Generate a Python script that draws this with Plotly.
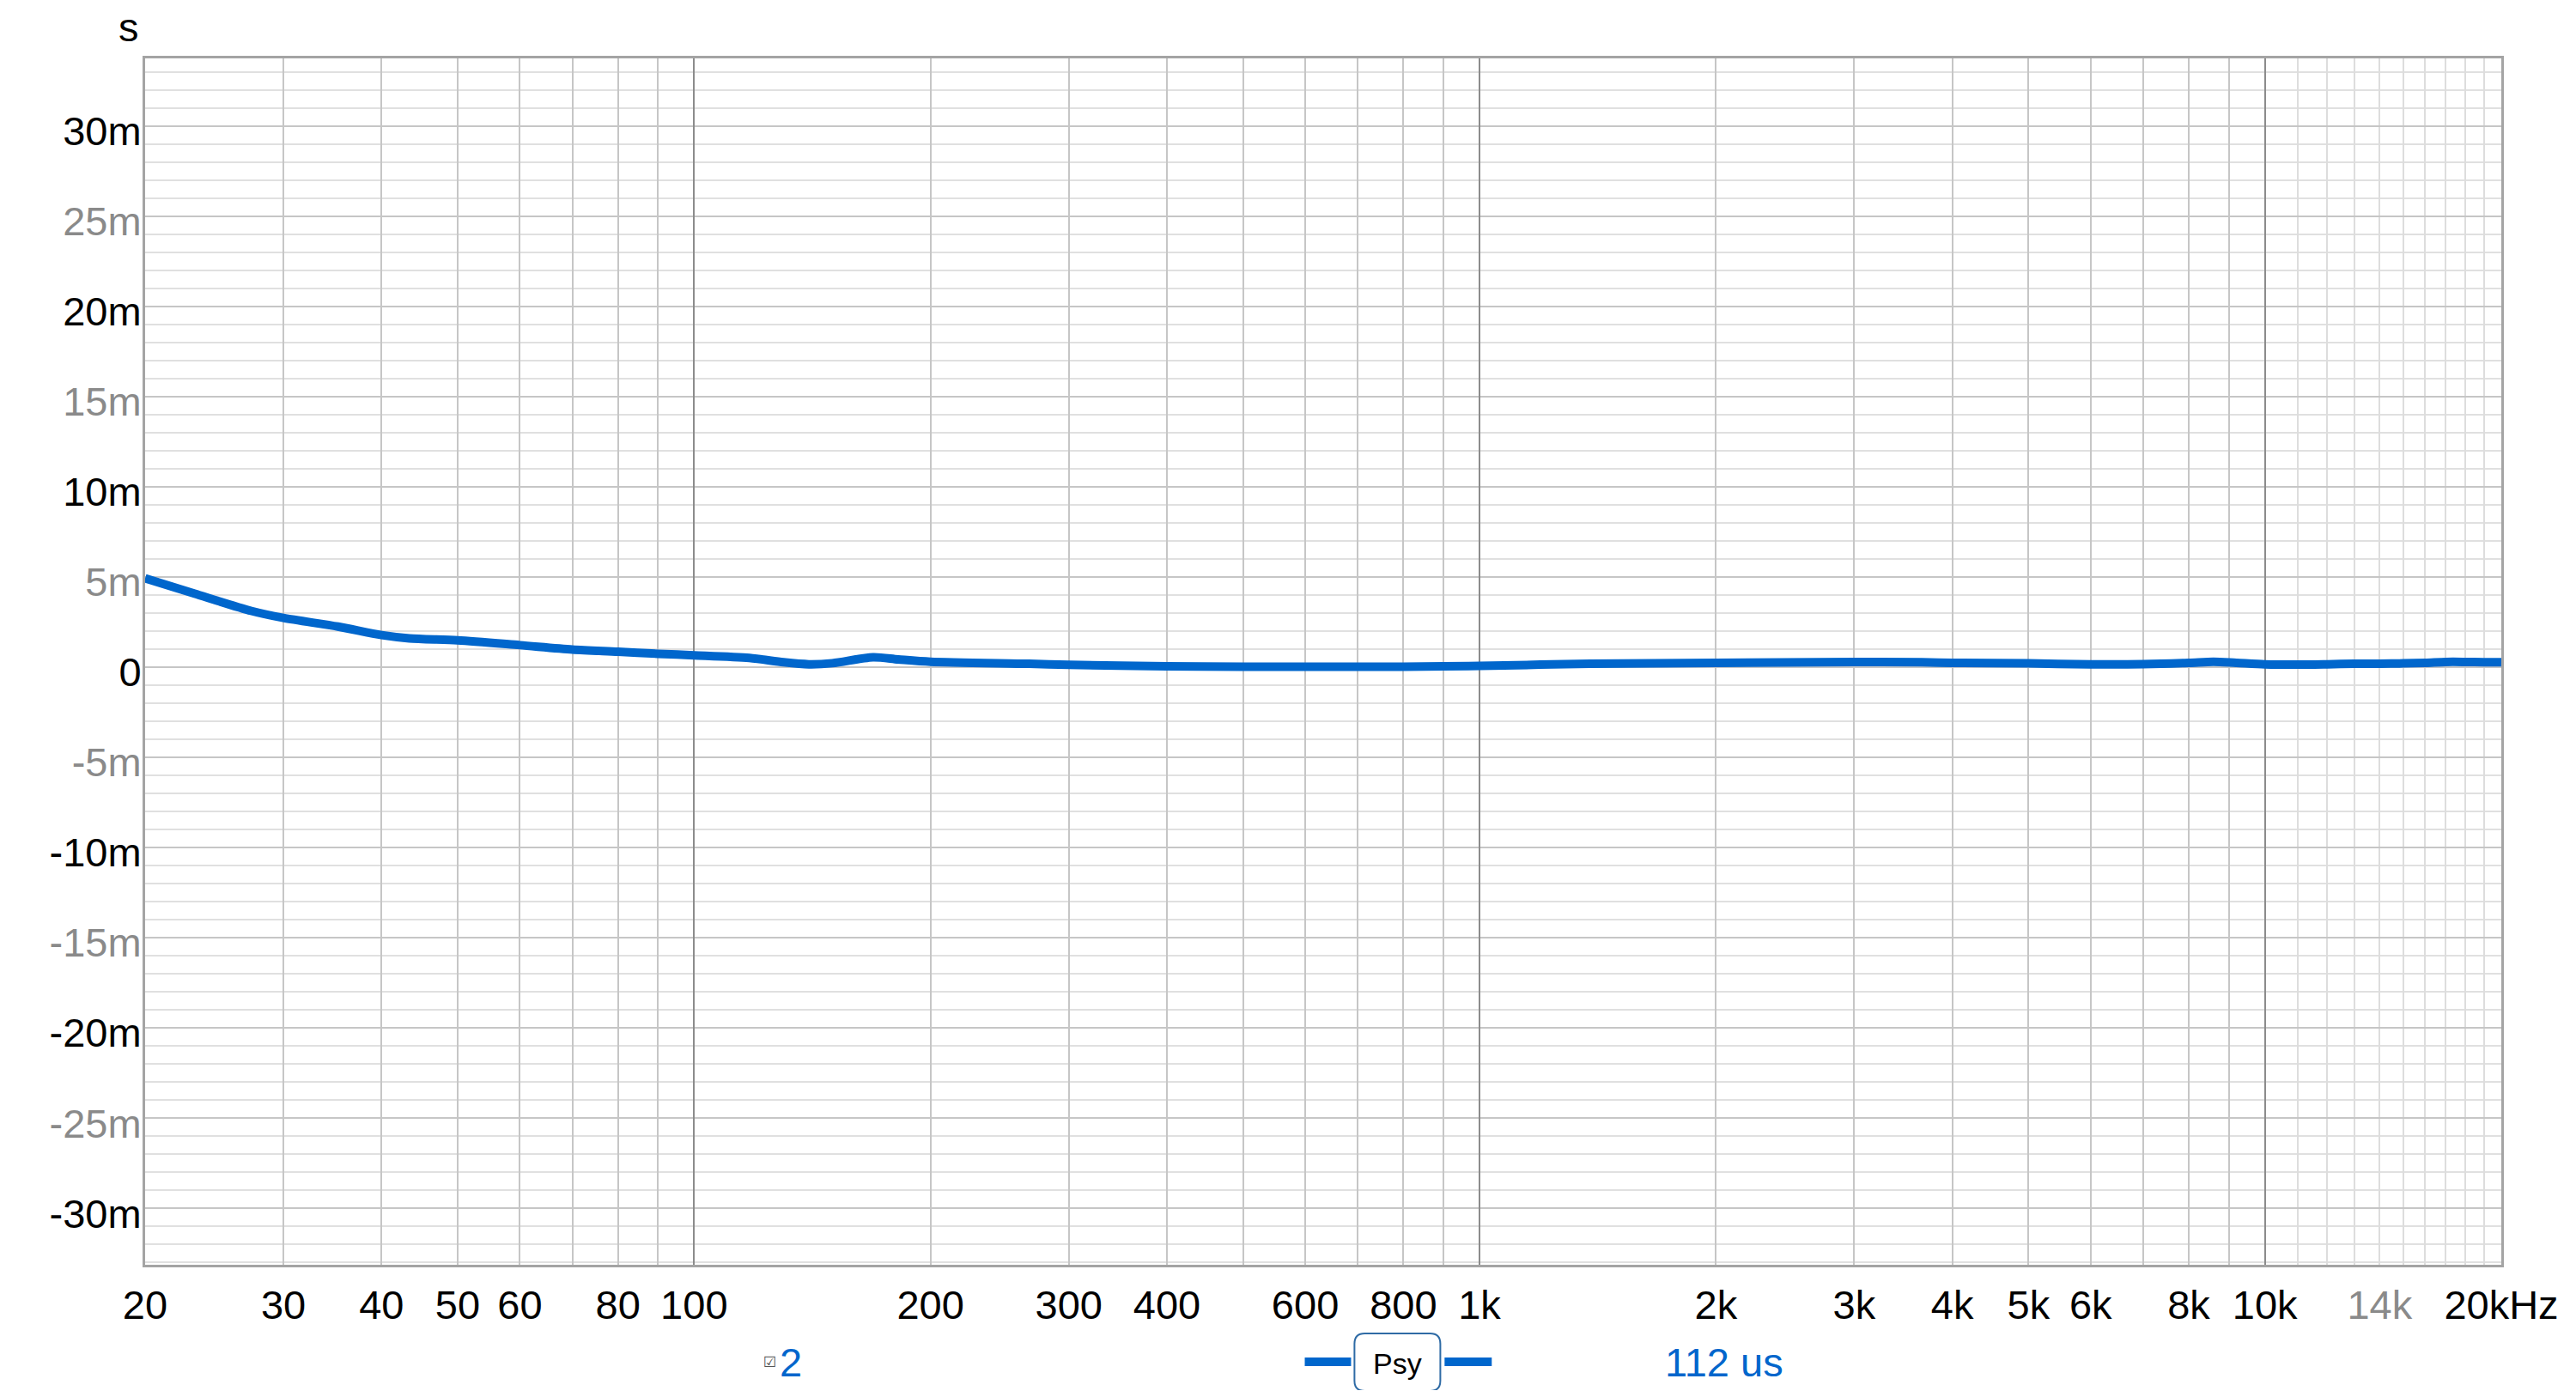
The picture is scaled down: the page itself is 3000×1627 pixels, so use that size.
import math
import plotly.graph_objects as go

# ---------------- data ----------------
freq_hz = [20, 23.1, 27.3, 30, 35.2, 40, 43.4, 50, 60, 70, 80, 90, 100, 117.6, 130, 140, 150,
           169, 182, 200, 267, 300, 400, 500, 600, 700, 800, 900, 1000, 1383, 2000, 3000, 3658,
           4000, 5000, 6000, 7000, 8000, 8600, 9200, 10000, 11000, 12000, 13000, 14000, 15000,
           16000, 17000, 18000, 19000, 20000]
group_delay_ms = [4.93, 4.08, 3.12, 2.73, 2.25, 1.78, 1.60, 1.49, 1.22, 0.98, 0.86, 0.74, 0.66, 0.51,
                  0.27, 0.16, 0.22, 0.55, 0.43, 0.30, 0.19, 0.13, 0.05, 0.03, 0.02, 0.02, 0.03, 0.05,
                  0.07, 0.19, 0.24, 0.29, 0.27, 0.24, 0.21, 0.16, 0.17, 0.24, 0.30, 0.24, 0.16, 0.14,
                  0.16, 0.19, 0.19, 0.21, 0.24, 0.29, 0.29, 0.28, 0.27]

x_tick_vals = [20, 30, 40, 50, 60, 80, 100, 200, 300, 400, 600, 800, 1000, 2000, 3000, 4000,
               5000, 6000, 8000, 10000, 14000, 20000]
x_tick_text = ["20", "30", "40", "50", "60", "80", "100", "200", "300", "400", "600", "800", "1k",
               "2k", "3k", "4k", "5k", "6k", "8k", "10k", "14k", "20kHz"]
x_tick_gray = ["14k"]

y_tick_vals = [30, 25, 20, 15, 10, 5, 0, -5, -10, -15, -20, -25, -30]
y_tick_text = ["30m", "25m", "20m", "15m", "10m", "5m", "0", "-5m", "-10m", "-15m", "-20m", "-25m", "-30m"]
y_tick_gray = ["25m", "15m", "5m", "-5m", "-15m", "-25m"]

grid_mid_x = [20, 30, 40, 50, 60, 70, 80, 90, 200, 300, 400, 500, 600, 700, 800, 900,
              2000, 3000, 4000, 5000, 6000, 7000, 8000, 9000]
grid_decade_x = [100, 1000, 10000]
grid_light_x = [11000, 12000, 13000, 14000, 15000, 16000, 17000, 18000, 19000]
grid_minor_y = list(range(-33, 34))

unit_label = "s"
legend_name = "2"
legend_button = "Psy"
legend_value = "112 us"

# ---------------- style ----------------
OFF = 8                      # default page body margin
W, H = 3000 - 2 * OFF, 1627 - 2 * OFF
L, R, T, B = 169, 2916, 68, 1473          # plot area in screen pixels
PW, PH = R - L, B - T
BLUE = "#0066cc"
GRAY_TXT = "#8a8a8a"
FONT = "Arial, Liberation Sans, sans-serif"
FS = 47


def px(xp):
    return (xp - L) / PW


def py(yp):
    return (B - yp) / PH


def colored(labels, grays):
    return [f"<span style='color:{GRAY_TXT}'>{t}</span>" if t in grays else t for t in labels]


fig = go.Figure()
fig.add_trace(go.Scatter(x=freq_hz, y=group_delay_ms, mode="lines",
                         line=dict(color=BLUE, width=10, shape="spline", smoothing=0.8),
                         showlegend=False, hoverinfo="skip"))
# empty traces to attach the grid-only overlay axes
fig.add_trace(go.Scatter(x=[], y=[], xaxis="x2", showlegend=False, hoverinfo="skip"))
fig.add_trace(go.Scatter(x=[], y=[], xaxis="x3", showlegend=False, hoverinfo="skip"))

xr = [math.log10(20), math.log10(20000)]
yr = [-33.14, 33.76]

fig.update_layout(
    width=W, height=H,
    margin=dict(l=L - OFF, r=W - (R - OFF), t=T - OFF, b=H - (B - OFF), pad=0),
    paper_bgcolor="white", plot_bgcolor="white",
    font=dict(family=FONT, size=FS, color="black"),
    xaxis=dict(type="log", range=xr, tickmode="array", tickvals=x_tick_vals,
               ticktext=colored(x_tick_text, x_tick_gray), showgrid=False, ticks="",
               ticklabelstandoff=4, showline=True, linecolor="#a4a4a4", linewidth=3,
               mirror=True, zeroline=False, tickfont=dict(size=FS, color="black")),
    xaxis2=dict(type="log", range=xr, overlaying="x", tickmode="array", tickvals=grid_mid_x,
                showticklabels=False, showgrid=True, gridcolor="#c6c6c6", gridwidth=1.5,
                ticks="", showline=False, zeroline=False,
                minor=dict(tickmode="array", tickvals=grid_light_x, showgrid=True,
                           gridcolor="#dddddd", gridwidth=1.5, ticks="")),
    xaxis3=dict(type="log", range=xr, overlaying="x", tickmode="array", tickvals=grid_decade_x,
                showticklabels=False, showgrid=True, gridcolor="#8c8c8c", gridwidth=2,
                ticks="", showline=False, zeroline=False),
    yaxis=dict(range=yr, tickmode="array", tickvals=y_tick_vals,
               ticktext=colored(y_tick_text, y_tick_gray), showgrid=True, gridcolor="#c6c6c6",
               gridwidth=1.5, ticks="", ticklen=0, ticklabelstandoff=-8, ticklabelshift=6,
               zeroline=False, showline=True,
               linecolor="#a4a4a4", linewidth=3, mirror=True,
               tickfont=dict(size=FS, color="black"),
               minor=dict(tickmode="array", tickvals=grid_minor_y, showgrid=True,
                          gridcolor="#e0e0e0", gridwidth=1.5, ticks="")),
)

# unit label
fig.add_annotation(text=unit_label, xref="paper", yref="paper", x=px(164), y=py(31),
                   xanchor="right", yanchor="middle", showarrow=False,
                   font=dict(size=FS, color="black"))

# legend row
leg_y = py(1586)
fig.add_annotation(text="☑", xref="paper", yref="paper", x=px(897), y=leg_y,
                   xanchor="center", yanchor="middle", showarrow=False,
                   font=dict(size=17, color="#555555", family="DejaVu Sans"))
fig.add_annotation(text=legend_name, xref="paper", yref="paper", x=px(907), y=leg_y,
                   xanchor="left", yanchor="middle", showarrow=False,
                   font=dict(size=FS, color=BLUE))
for xa, xb in [(1521, 1575), (1684, 1739)]:
    fig.add_shape(type="line", xref="paper", yref="paper", x0=px(xa), x1=px(xb),
                  y0=leg_y, y1=leg_y, line=dict(color=BLUE, width=10))
# rounded box for button
bw, bh, rr = 100, 67, 12
hw, hh = bw / 2, bh / 2
path = (f"M {-hw + rr},{-hh} L {hw - rr},{-hh} Q {hw},{-hh} {hw},{-hh + rr} "
        f"L {hw},{hh - rr} Q {hw},{hh} {hw - rr},{hh} L {-hw + rr},{hh} "
        f"Q {-hw},{hh} {-hw},{hh - rr} L {-hw},{-hh + rr} Q {-hw},{-hh} {-hw + rr},{-hh} Z")
fig.add_shape(type="path", xref="paper", yref="paper", xsizemode="pixel", ysizemode="pixel",
              xanchor=px(1629), yanchor=py(1586.5), path=path,
              line=dict(color="#2f6ba5", width=2), fillcolor="white")
fig.add_annotation(text=legend_button, xref="paper", yref="paper", x=px(1629), y=py(1588),
                   xanchor="center", yanchor="middle", showarrow=False,
                   font=dict(size=34, color="black"))
fig.add_annotation(text=legend_value, xref="paper", yref="paper", x=px(2010), y=leg_y,
                   xanchor="center", yanchor="middle", showarrow=False,
                   font=dict(size=FS, color=BLUE))

fig.write_html("out.html")
